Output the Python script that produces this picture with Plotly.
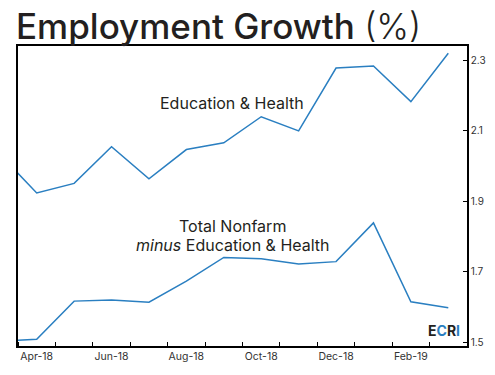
import plotly.graph_objects as go

months = ["Mar-18", "Apr-18", "May-18", "Jun-18", "Jul-18", "Aug-18", "Sep-18",
          "Oct-18", "Nov-18", "Dec-18", "Jan-19", "Feb-19", "Mar-19"]
edu_health = [2.034, 1.923, 1.950, 2.054, 1.963, 2.046, 2.065,
              2.139, 2.099, 2.277, 2.283, 2.182, 2.319]
nonfarm_minus = [1.502, 1.508, 1.616, 1.619, 1.613, 1.673, 1.740,
                 1.736, 1.721, 1.728, 1.838, 1.614, 1.597]
tick_labels = ["Apr-18", "Jun-18", "Aug-18", "Oct-18", "Dec-18", "Feb-19"]
y_ticks = [1.5, 1.7, 1.9, 2.1, 2.3]

idx = list(range(len(months)))
label_pos = [months.index(m) for m in tick_labels]

LINE = "#2a7fc1"
DARK = "#231f20"
FONT = "Inter"

fig = go.Figure()
for vals in (edu_health, nonfarm_minus):
    fig.add_trace(go.Scatter(x=idx, y=vals, mode="lines",
                             line=dict(color=LINE, width=1.5),
                             hoverinfo="skip", showlegend=False))

fig.update_layout(
    width=495, height=375,
    margin=dict(l=18, r=28, t=46, b=29, autoexpand=False),
    paper_bgcolor="white", plot_bgcolor="white",
    font=dict(family=FONT, color=DARK),
    xaxis=dict(range=[0.5, 12.5], tickvals=label_pos, ticktext=tick_labels,
               ticks="", showgrid=False, zeroline=False, automargin=False,
               showline=True, linecolor="black", linewidth=1.5, mirror=True,
               tickfont=dict(size=10.5, color="#333333"),
               minor=dict(tick0=0.5, dtick=1, ticks="inside", ticklen=4,
                          tickcolor="black", showgrid=False)),
    yaxis=dict(range=[1.4887, 2.3397], side="right", tickvals=y_ticks,
               ticktext=[f"{v:.1f}" for v in y_ticks],
               ticks="inside", ticklen=4, tickcolor="black",
               showgrid=False, zeroline=False, automargin=False,
               showline=True, linecolor="black", linewidth=1.5, mirror=True,
               tickfont=dict(size=10, color="#333333")),
)

fig.add_annotation(xref="paper", yref="paper", x=0, y=1, xanchor="left", yanchor="bottom",
                   xshift=-4, yshift=-3, showarrow=False,
                   text="Employment Growth <span style='font-weight:300'>(%)</span>",
                   font=dict(size=35, color=DARK, family=FONT, weight=500))
fig.add_annotation(x=6.21, y=2.178, text="Education & Health", showarrow=False,
                   font=dict(size=16, color=DARK, family=FONT))
fig.add_annotation(x=6.24, y=1.829, text="Total Nonfarm", showarrow=False,
                   font=dict(size=16, color=DARK, family=FONT))
fig.add_annotation(x=6.24, y=1.775, text="<i>minus</i> Education & Health", showarrow=False,
                   font=dict(size=16, color=DARK, family=FONT))
fig.add_annotation(xref="paper", yref="paper", x=1, y=0, xanchor="right", yanchor="bottom",
                   xshift=-5, yshift=5, showarrow=False,
                   text=f"E<span style='color:{LINE}'>C</span>R<span style='color:{LINE}'>I</span>",
                   font=dict(size=14, color=DARK, family=FONT, weight=700))

fig.write_html("out.html", config={"displayModeBar": False},
               post_script="document.body.style.margin='0';")
